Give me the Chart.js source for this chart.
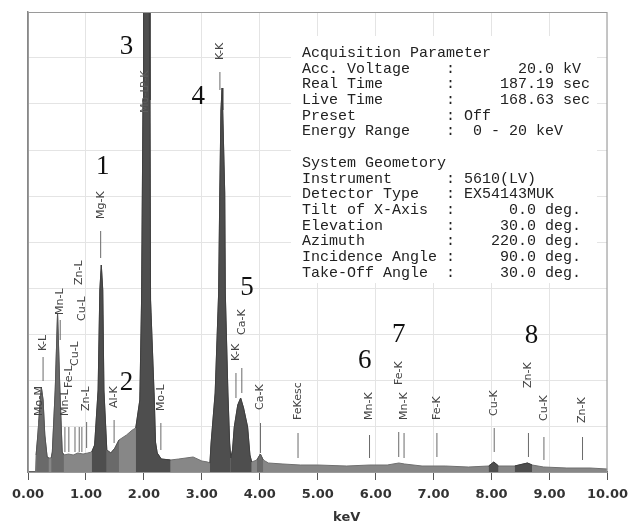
<!DOCTYPE html>
<html>
<head>
<meta charset="utf-8">
<script src="https://cdn.jsdelivr.net/npm/chart.js@4"></script>
<style>
  html,body{margin:0;padding:0;background:#fff;}
  #wrap{width:635px;height:525px;}
</style>
</head>
<body>
<div id="wrap"><canvas id="eds" width="635" height="525"></canvas></div>
<script>
// ====== espectro EDS: energía (keV) y cuentas ======
const energy = [0.00,0.13,0.14,0.17,0.20,0.23,0.26,0.29,0.33,0.36,0.40,0.42,0.47,0.51,0.55,0.59,0.62,0.70,0.78,0.86,0.95,1.03,1.10,
  1.15,1.21,1.24,1.265,1.29,1.31,1.36,1.43,1.50,1.57,1.70,1.80,1.86,1.88,1.93,1.96,1.985,1.995,2.09,2.105,2.115,2.18,2.20,2.23,2.30,2.46,2.60,2.85,
  3.00,3.10,3.14,3.16,3.23,3.29,3.31,3.33,3.35,3.36,3.395,3.405,3.45,3.48,3.50,3.53,3.56,3.62,3.67,3.72,3.79,3.83,3.86,3.95,4.01,4.06,
  4.15,4.40,4.70,5.00,5.50,5.90,6.20,6.40,6.50,6.80,7.20,7.60,7.95,8.04,8.12,8.40,8.62,8.70,8.90,9.30,9.70,10.00];
const counts = [0,0,170,370,620,850,720,370,150,140,140,200,820,1590,820,200,170,180,170,190,180,190,200,
  270,820,1820,2070,1820,820,220,190,240,320,370,420,440,520,720,1720,3720,4800,4800,3720,1720,720,300,190,130,120,130,150,
  110,100,90,290,790,1790,2790,3620,3840,3620,2790,1790,790,290,140,220,450,670,740,640,450,170,100,120,180,120,
  90,80,70,70,60,70,70,90,80,60,60,50,60,100,60,60,90,70,50,40,40,30];

// ventanas ROI (sombreado): principales y secundarias
const roiMajor = [[1.10,1.36],[1.86,2.46],[3.14,3.50],[3.50,3.86],[7.95,8.12],[8.40,8.70]];
const roiMinor = [[0.14,0.36],[0.40,0.62],[1.36,1.57],[3.95,4.06]];

// marcadores de líneas: energía, etiqueta, extremo bajo/alto de la raya, base del texto (cuentas)
const peakEnergy = [0.19,0.26,0.556,0.637,0.705,0.811,0.884,0.93,1.012,1.254,1.486,2.03,2.03,2.293,3.312,3.589,3.690,4.012,4.66,5.894,6.398,6.49,7.057,8.046,8.637,8.904,9.57];
const peakLabel  = ['Mo-M','K-L','Mn-L','Mn-L','Fe-L','Cu-L','Zn-L','Cu-L','Zn-L','Mg-K','Al-K','Mo-L','P-K','Mo-L','K-K','K-K','Ca-K','Ca-K','FeKesc','Mn-K','Fe-K','Mn-K','Fe-K','Cu-K','Zn-K','Cu-K','Zn-K'];
const markLow    = [220,910,1320,200,200,200,200,200,240,2140,290,3590,3840,220,3820,740,790,190,140,140,150,140,150,200,150,120,120];
const markHigh   = [500,1150,1520,450,450,450,450,450,500,2410,520,3590,3840,490,4000,990,1040,490,390,370,400,390,390,440,390,350,350];
const labelBase  = [540,1190,1550,540,820,1040,1850,1490,590,2510,620,3590,3840,590,4100,1090,1350,600,500,500,850,500,500,540,820,490,470];

// números de pico (anotación)
const peakNum  = ['1','2','3','4','5','6','7','8'];
const numKeV   = [1.29,1.70,1.70,2.94,3.78,5.81,6.40,8.69];
const numCount = [3050,890,4250,3750,1840,1110,1370,1360];

// tabla de parámetros
const infoLines = [
  'Acquisition Parameter',
  'Acc. Voltage    :       20.0 kV',
  'Real Time       :     187.19 sec',
  'Live Time       :     168.63 sec',
  'Preset          : Off',
  'Energy Range    :  0 - 20 keV',
  '',
  'System Geometory',
  'Instrument      : 5610(LV)',
  'Detector Type   : EX54143MUK',
  'Tilt of X-Axis  :      0.0 deg.',
  'Elevation       :     30.0 deg.',
  'Azimuth         :    220.0 deg.',
  'Incidence Angle :     90.0 deg.',
  'Take-Off Angle  :     30.0 deg.'
];

const xTicks = [0,1,2,3,4,5,6,7,8,9,10];

// --- armado de datasets ---
const spectrumPts = energy.map((e,i)=>({ x:e, y:counts[i] }));
const roiSet = ([a,b], bg, bd, order) => ({
  data: spectrumPts.filter(p => p.x >= a && p.x <= b),
  showLine:true, fill:'origin', pointRadius:0, borderWidth:1,
  backgroundColor:bg, borderColor:bd, order
});
const roiSets = [
  ...roiMajor.map(w => roiSet(w, '#4e4e4e', '#3e3e3e', 2)),
  ...roiMinor.map(w => roiSet(w, '#6a6a6a', '#555', 2))
];
const markPts = [];
peakEnergy.forEach((e,i)=>{
  if (markLow[i] === markHigh[i]) return;
  markPts.push({x:e, y:markLow[i]}, {x:e, y:markHigh[i]}, {x:e, y:null});
});

const overlay = {
  id:'overlay',
  beforeDatasetsDraw(chart){
    const {ctx} = chart;
    ctx.save();
    ctx.fillStyle = '#fff';
    ctx.fillRect(291, 36, 306, 247);
    ctx.fillStyle = '#222';
    ctx.font = '15px "Liberation Mono", monospace';
    ctx.textBaseline = 'middle';
    infoLines.forEach((t,i)=> ctx.fillText(t, 302, 53 + i*15.7));
    ctx.restore();
  },
  afterDatasetsDraw(chart){
    const {ctx, scales:{x,y}, chartArea:a} = chart;
    ctx.save();
    // borde del gráfico
    ctx.strokeStyle = '#9a9a9a'; ctx.lineWidth = 1;
    ctx.strokeRect(a.left+0.5, a.top+0.5, a.right-a.left-1, a.bottom-a.top);
    // etiquetas verticales de líneas
    ctx.font = '11px "DejaVu Sans", sans-serif';
    ctx.textBaseline = 'middle'; ctx.textAlign = 'left';
    peakEnergy.forEach((e,i)=>{
      const onPeak = markLow[i] === markHigh[i];
      ctx.fillStyle = onPeak ? '#5c5c5c' : '#444';
      ctx.save();
      ctx.translate(x.getPixelForValue(e), y.getPixelForValue(labelBase[i]) - (onPeak ? 0 : 2));
      ctx.rotate(-Math.PI/2);
      ctx.fillText(peakLabel[i], 0, 0);
      ctx.restore();
    });
    // números
    ctx.font = '27px "Liberation Serif", serif';
    ctx.fillStyle = '#111'; ctx.textAlign = 'center';
    peakNum.forEach((n,i)=> ctx.fillText(n, x.getPixelForValue(numKeV[i]), y.getPixelForValue(numCount[i])));
    // título del eje
    ctx.font = 'bold 13px "DejaVu Sans", sans-serif';
    ctx.fillStyle = '#333';
    ctx.fillText('keV', x.getPixelForValue(5.5), 518);
    ctx.restore();
  }
};

new Chart(document.getElementById('eds'), {
  type:'scatter',
  data:{ datasets:[
    { data:markPts, showLine:true, pointRadius:0, borderColor:'#6a6a6a', borderWidth:1, spanGaps:false, order:1 },
    ...roiSets,
    { data:spectrumPts, showLine:true, fill:'origin', pointRadius:0, borderWidth:1,
      backgroundColor:'#878787', borderColor:'#707070', order:3 }
  ]},
  options:{
    responsive:false, animation:false,
    layout:{ padding:{ top:12, right:22, left:0, bottom:0 } },
    plugins:{ legend:{display:false}, tooltip:{enabled:false} },
    scales:{
      x:{ type:'linear', min:0, max:10,
          afterFit:(s)=>{ s.height = 53; },
          afterBuildTicks:(s)=>{ s.ticks = xTicks.map(v=>({value:v})); },
          ticks:{ callback:(v)=>Number(v).toFixed(2), color:'#333', padding:7,
                  font:{ family:'"DejaVu Sans", sans-serif', size:13, weight:'bold' }, maxRotation:0 },
          grid:{ color:'#e4e4e4', tickColor:'#555', tickLength:8 },
          border:{ color:'#555', width:1.5 } },
      y:{ min:0, max:4600,
          afterFit:(s)=>{ s.width = 28; },
          ticks:{ display:false, stepSize:460 },
          grid:{ color:'#e4e4e4', drawTicks:false },
          border:{ color:'#888', width:1.5 } }
    }
  },
  plugins:[overlay]
});
</script>
</body>
</html>
